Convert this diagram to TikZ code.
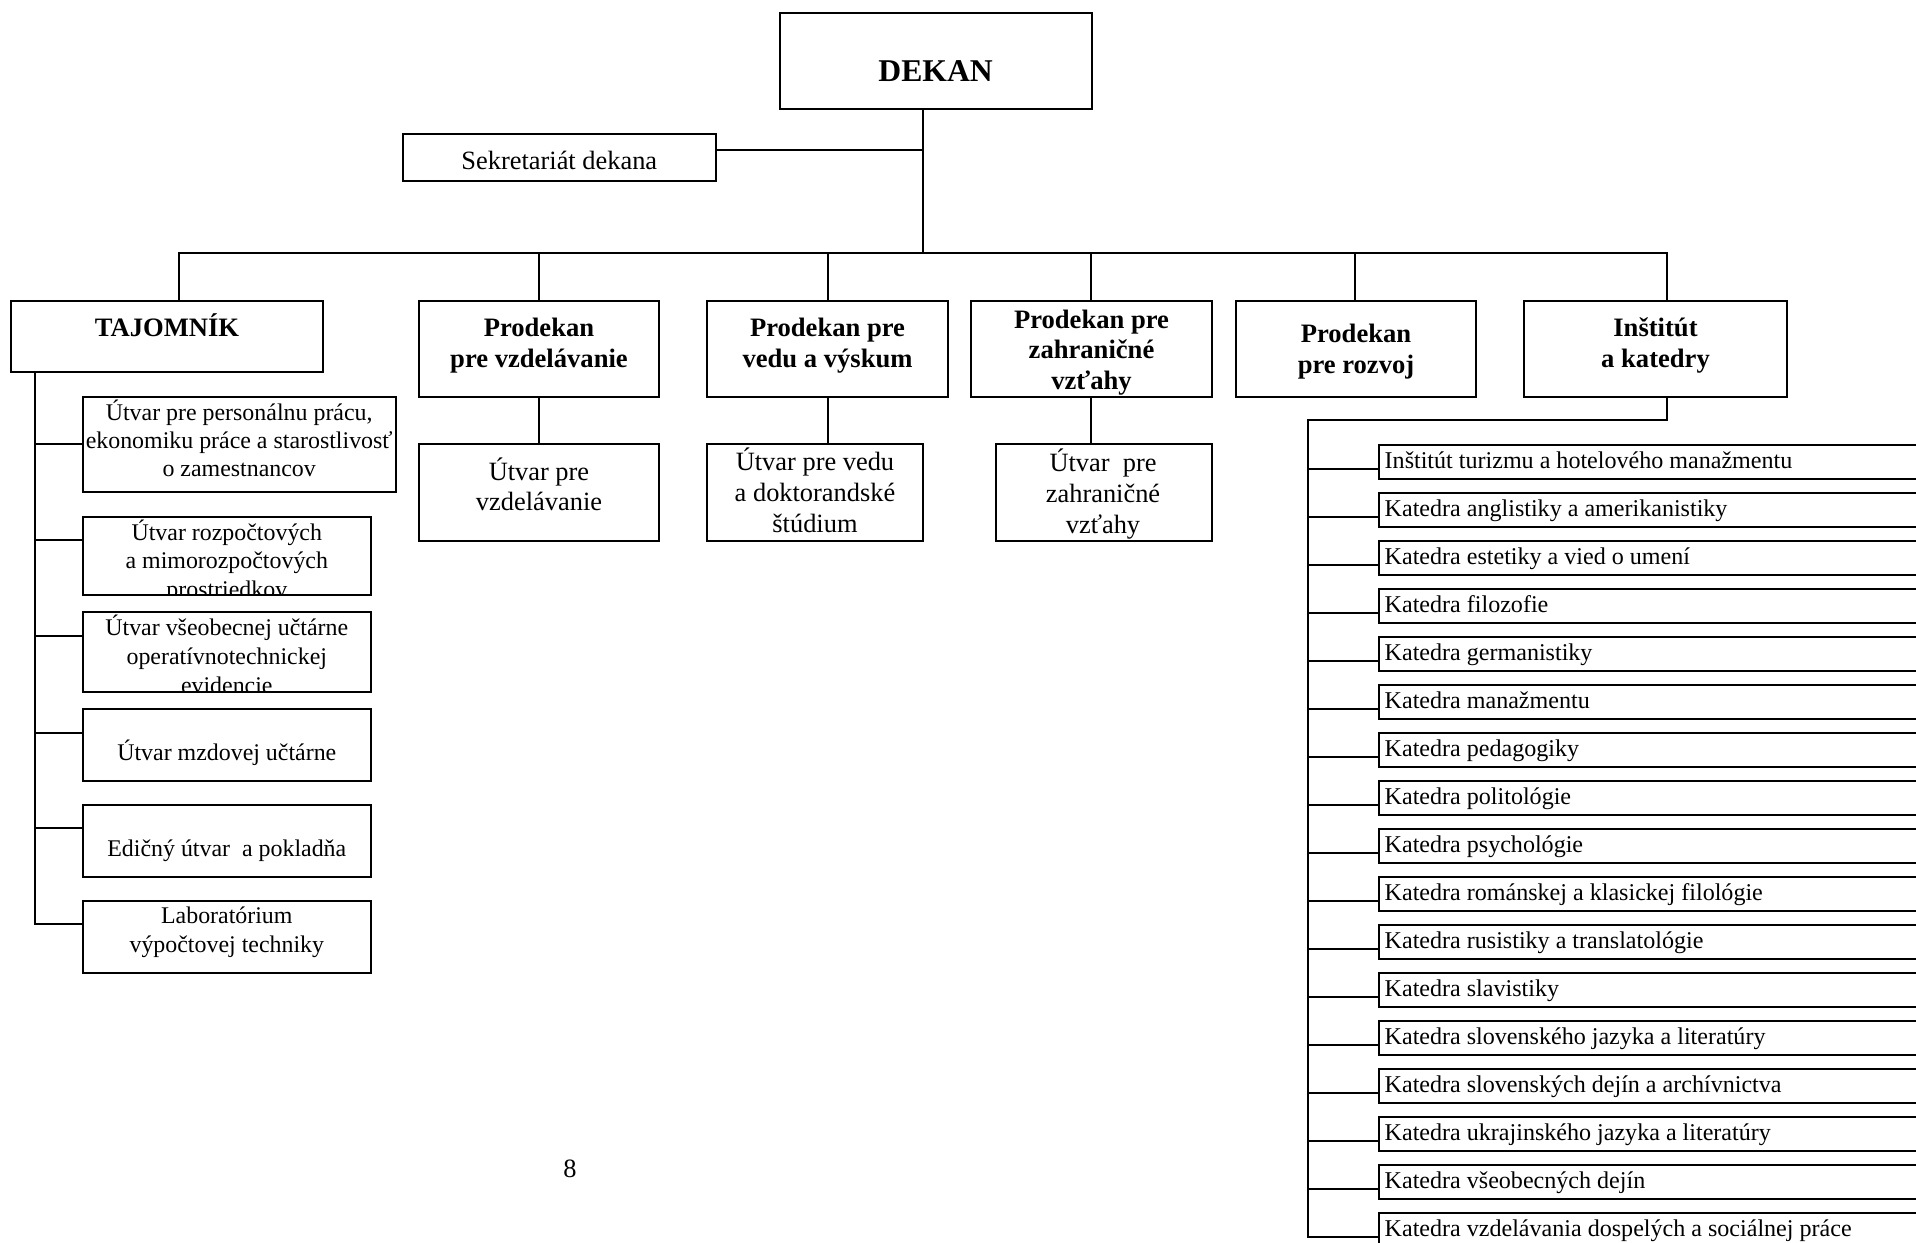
\documentclass[tikz,border=0pt]{standalone}
\usepackage{fontspec}
\setmainfont{Liberation Serif}
\usetikzlibrary{fit}
\newcommand\mlines[2]{\vtop{\baselineskip=#1\relax\lineskiplimit=-1000pt\lineskip=0pt\halign{\hfil##\hfil\cr#2\crcr}}}
\begin{document}
\begin{tikzpicture}[x=0.5pt,y=-0.5pt,
  box/.style={draw, line width=1pt, inner sep=0pt, outer sep=0pt},
  con/.style={line width=1pt, line cap=rect},
  txt/.style={inner sep=0pt, outer sep=0pt, anchor=base},
  fbig/.style={font=\fontsize{15.85pt}{18pt}\selectfont\bfseries},
  fhead/.style={font=\fontsize{13.3pt}{15pt}\selectfont\bfseries},
  fmid/.style={font=\fontsize{13.2pt}{15pt}\selectfont},
  fleft/.style={font=\fontsize{11.95pt}{14pt}\selectfont},
  fdept/.style={font=\fontsize{12.03pt}{14pt}\selectfont}]
\useasboundingbox (0,0) rectangle (1916,1242);
\fill[white] (0,0) rectangle (1916,1242);
\clip (0,0) rectangle (1916,1242);

% top
\node[box, fit={(779.6,12.7) (1091.7,109.3)}] (dekan) {};
\node[txt, fbig] (dekanT) at (935.6,81) {DEKAN};
\node[box, fit={(403,134) (715.6,181)}] (sekr) {};
\node[txt, fmid] (sekrT) at (559.3,169.3) {Sekretariát dekana};

\coordinate (j) at (923.2,252.5);
\coordinate (sk) at (715.6,150);
\draw[con] (dekan.south -| j) -- (j);
\draw[con] (sekr.east |- sk) -- (j |- sk);

% second row
\node[box, fit={(10.7,300.7) (323.3,372.3)}] (taj) {};
\node[txt, fhead] (tajT) at (167,336.7) {TAJOMNÍK};
\node[box, fit={(418.8,300.7) (659.4,396.7)}] (pv) {};
\node[txt, fhead] (pvT) at (539,336.7) {\mlines{15.6pt}{Prodekan\cr pre vzdelávanie}};
\node[box, fit={(707,300.7) (948,396.7)}] (pveda) {};
\node[txt, fhead] (pvedaT) at (827.5,336.7) {\mlines{15.6pt}{Prodekan pre\cr vedu a výskum}};
\node[box, fit={(971,300.7) (1212,396.7)}] (pz) {};
\node[txt, fhead] (pzT) at (1091.5,328) {\mlines{15.25pt}{Prodekan pre\cr zahraničné\cr vzťahy}};
\node[box, fit={(1236,300.7) (1476,396.7)}] (pr) {};
\node[txt, fhead] (prT) at (1356,342) {\mlines{15.5pt}{Prodekan\cr pre rozvoj}};
\node[box, fit={(1524,300.7) (1787,396.7)}] (inst) {};
\node[txt, fhead] (instT) at (1655.5,336.7) {\mlines{15.4pt}{Inštitút\cr a katedry}};

% bus
\coordinate (bTaj) at (179,252.5);
\coordinate (bPv) at (539,252.5);
\coordinate (bPveda) at (827.8,252.5);
\coordinate (bPz) at (1091.4,252.5);
\coordinate (bPr) at (1355.3,252.5);
\coordinate (bInst) at (1667,252.5);
\draw[con] (taj.north -| bTaj) -- (bTaj) -- (bInst) -- (inst.north -| bInst);
\draw[con] (bPv) -- (pv.north -| bPv);
\draw[con] (bPveda) -- (pveda.north -| bPveda);
\draw[con] (bPz) -- (pz.north -| bPz);
\draw[con] (bPr) -- (pr.north -| bPr);

% middle sub-units
\node[box, fit={(418.8,444.3) (659.4,540.7)}] (upv) {};
\node[txt, fmid] (upvT) at (539,480) {\mlines{15.3pt}{Útvar pre\cr vzdelávanie}};
\node[box, fit={(707,444.3) (923,540.7)}] (uveda) {};
\node[txt, fmid] (uvedaT) at (815,470) {\mlines{15.6pt}{Útvar pre vedu\cr a doktorandské\cr štúdium}};
\node[box, fit={(996,444.3) (1212,540.7)}] (uz) {};
\node[txt, fmid] (uzT) at (1103,471) {\mlines{15.5pt}{Útvar~~pre\cr zahraničné\cr vzťahy}};
\draw[con] (pv.south -| bPv) -- (upv.north -| bPv);
\draw[con] (pveda.south -| bPveda) -- (uveda.north -| bPveda);
\draw[con] (pz.south -| bPz) -- (uz.north -| bPz);

% left column
\node[box, fit={(82.7,396.7) (395.7,492.3)}] (b1) {};
\node[txt, fleft] (b1T) at (239.2,420.5) {\mlines{14pt}{Útvar pre personálnu prácu,\cr ekonomiku práce a starostlivosť\cr o zamestnancov}};
\node[box, fit={(82.7,516.7) (371,595)}] (b2) {};
\begin{scope}
\clip (b2.south west) rectangle (b2.north east);
\node[txt, fleft] (b2T) at (226.8,540) {\mlines{14.25pt}{Útvar rozpočtových\cr a mimorozpočtových\cr prostriedkov}};
\end{scope}
\node[box, fit={(82.7,611.7) (371,691.7)}] (b3) {};
\begin{scope}
\clip (b3.south west) rectangle (b3.north east);
\node[txt, fleft] (b3T) at (226.8,635.5) {\mlines{14.4pt}{Útvar všeobecnej učtárne\cr operatívnotechnickej\cr evidencie}};
\end{scope}
\node[box, fit={(82.7,709) (371,780.7)}] (b4) {};
\node[txt, fleft] (b4T) at (226.8,760) {Útvar mzdovej učtárne};
\node[box, fit={(82.7,805) (371,876.7)}] (b5) {};
\node[txt, fleft] (b5T) at (226.8,856) {Edičný útvar~~a pokladňa};
\node[box, fit={(82.7,901) (371,972.7)}] (b6) {};
\node[txt, fleft] (b6T) at (226.8,923.3) {\mlines{14.5pt}{Laboratórium\cr výpočtovej techniky}};

\coordinate (ls) at (35,372.3);
\coordinate (k1) at (35,444.3);
\coordinate (k2) at (35,540);
\coordinate (k3) at (35,636);
\coordinate (k4) at (35,732.7);
\coordinate (k5) at (35,828.3);
\coordinate (k6) at (35,924.3);
\draw[con] (ls) -- (k6) -- (k6 -| b6.west);
\draw[con] (k1) -- (k1 -| b1.west);
\draw[con] (k2) -- (k2 -| b2.west);
\draw[con] (k3) -- (k3 -| b3.west);
\draw[con] (k4) -- (k4 -| b4.west);
\draw[con] (k5) -- (k5 -| b5.west);

% departments
\coordinate (ib) at (1667,420.3);
\coordinate (is) at (1307.7,420.3);
\coordinate (isEnd) at (1307.7,1236.7);
\draw[con] (inst.south -| ib) -- (ib) -- (is) -- (isEnd);
\foreach \t [count=\i from 0] in {%
  Inštitút turizmu a hotelového manažmentu,
  Katedra anglistiky a amerikanistiky,
  Katedra estetiky a vied o umení,
  Katedra filozofie,
  Katedra germanistiky,
  Katedra manažmentu,
  Katedra pedagogiky,
  Katedra politológie,
  Katedra psychológie,
  Katedra románskej a klasickej filológie,
  Katedra rusistiky a translatológie,
  Katedra slavistiky,
  Katedra slovenského jazyka a literatúry,
  Katedra slovenských dejín a archívnictva,
  Katedra ukrajinského jazyka a literatúry,
  Katedra všeobecných dejín,
  Katedra vzdelávania dospelých a sociálnej práce} {
  \pgfmathsetmacro\tp{444.7+48*\i}
  \node[box, fit={(1379,\tp) (1960,\tp+34)}] (d\i) {};
  \node[txt, fdept, anchor=base west] (dT\i) at (1384.7,\tp+23.5) {\t};
  \coordinate (c\i) at (1307.7,\tp+24);
  \draw[con] (c\i) -- (c\i -| d\i.west);
}

% page number
\node[txt, fmid] (page) at (570,1177.7) {8};
\end{tikzpicture}
\end{document}
